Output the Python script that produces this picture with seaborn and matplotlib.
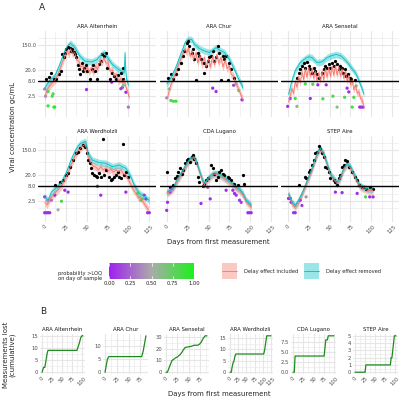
import numpy as np
import pandas as pd
import seaborn as sns
import matplotlib.pyplot as plt
from matplotlib.colors import LinearSegmentedColormap
from matplotlib.patches import Rectangle
from matplotlib.lines import Line2D
from matplotlib.ticker import NullFormatter

sites = ["ARA Altenrhein", "ARA Chur", "ARA Sensetal",
         "ARA Werdholzli", "CDA Lugano", "STEP Aire"]

# ---------- panel A: model curve, delay effect removed (cyan) ----------
alt_rm_day = [0, 6, 12, 18, 24, 28, 31, 36, 42, 48, 56, 62, 68, 71, 75, 81, 87, 95, 96, 97, 98, 100]
alt_rm_val = [4.6, 8.5, 12, 31, 92, 146, 172, 121, 61, 41, 38, 45, 70, 81, 54, 31, 22, 16, 81, 16, 9.2, 5.8]
chu_rm_day = [0, 4, 10, 16, 22, 26, 30, 33, 39, 45, 51, 55, 59, 63, 69, 75, 81, 85, 90, 91]
chu_rm_val = [6.5, 9.4, 21, 61, 182, 239, 230, 160, 112, 93, 81, 98, 120, 100, 81, 47, 21, 11, 5.8, 4.6]
sen_rm_day = [1, 5, 9, 15, 21, 25, 29, 35, 41, 47, 53, 58, 64, 70, 76, 82, 86, 89, 91]
sen_rm_val = [2.8, 8.3, 19, 36, 50, 58, 54, 36, 38, 54, 64, 70, 61, 41, 24, 14, 7.2, 4.3, 2.8]
wer_rm_day = [0, 4, 8, 14, 20, 26, 32, 38, 42, 46, 49, 52, 57, 65, 73, 81, 89, 97, 103, 107, 113, 119, 123, 125]
wer_rm_val = [3.4, 2.6, 5, 7.2, 11, 25, 73, 170, 240, 280, 295, 110, 66, 54, 51, 39, 44, 34, 17, 8.7, 4.6, 3.5, 2.8, 2.6]
lug_rm_day = [0, 4, 8, 12, 18, 24, 28, 32, 35, 39, 43, 45, 49, 55, 59, 65, 71, 77, 83, 87, 91, 95, 99, 101]
lug_rm_val = [5, 5.8, 7.4, 13, 25, 51, 75, 87, 66, 29, 13, 10, 15, 22, 23, 20, 15, 11, 7.4, 6.4, 4.5, 2.6, 2.0, 1.7]
air_rm_day = [1, 5, 9, 13, 17, 21, 25, 29, 33, 37, 39, 43, 47, 51, 55, 59, 63, 67, 71, 75, 79, 83, 86, 90, 96, 102]
air_rm_val = [4.5, 2.2, 1.7, 2.6, 4.5, 8.7, 17, 34, 75, 150, 170, 115, 51, 22, 15, 11, 17, 34, 51, 39, 22, 13, 8.7, 7.4, 6.4, 6.4]

# ---------- panel A: model curve, delay effect included (red) ----------
alt_in_day = [0, 3, 6, 9, 12, 15, 18, 21, 24, 27, 29, 31, 33, 36, 38, 41, 43, 46, 48, 51, 53, 56, 58, 61, 63,
              66, 68, 71, 73, 76, 78, 81, 83, 86, 88, 91, 93, 95, 97, 99, 101]
alt_in_val = [2.4, 4.0, 5.5, 7, 8.5, 12, 20, 35, 60, 95, 70, 110, 75, 80, 45, 40, 25, 28, 18, 25, 17, 24, 16, 28, 20,
              45, 35, 55, 35, 35, 18, 20, 12, 14, 8, 10, 7, 9, 5, 3.5, 2.2]
chu_in_day = [1, 4, 7, 10, 13, 16, 19, 22, 24, 26, 28, 30, 32, 35, 37, 40, 42, 45, 47, 50, 52, 55, 57, 60, 62,
              65, 67, 70, 72, 75, 77, 80, 82, 85, 88, 91]
chu_in_val = [2.2, 5, 9, 14, 25, 40, 70, 110, 80, 120, 60, 95, 45, 80, 35, 65, 30, 55, 25, 50, 25, 60, 30, 70, 35,
              55, 25, 45, 22, 28, 14, 12, 7, 5, 3, 1.8]
sen_in_day = [1, 3, 5, 7, 9, 11, 13, 15, 17, 19, 21, 23, 25, 27, 29, 31, 33, 35, 37, 39, 41, 43, 45, 47, 49,
              51, 53, 55, 57, 59, 61, 63, 65, 67, 69, 71, 73, 75, 77, 79, 81, 83, 85, 87, 89, 91]
sen_in_val = [1.5, 2.5, 4.5, 3, 8, 5, 12, 7, 18, 9, 22, 11, 25, 12, 22, 10, 18, 8, 16, 8, 18, 9, 22, 11, 25,
              12, 27, 13, 28, 13, 26, 12, 22, 10, 18, 8, 13, 6, 9, 4, 6, 3, 3.5, 2, 1.8, 1.0]
wer_in_day = [0, 3, 6, 9, 12, 15, 18, 21, 24, 27, 30, 33, 36, 39, 42, 45, 48, 50, 52, 55, 58, 61, 64, 67, 70,
              73, 76, 79, 82, 85, 88, 91, 94, 97, 100, 103, 106, 109, 112, 115, 118, 121, 124]
wer_in_val = [2.2, 1.8, 2.8, 3.5, 4.5, 5.5, 7, 9, 14, 20, 35, 55, 90, 130, 160, 200, 230, 170, 80, 55, 40, 38, 30, 38, 30,
              35, 28, 32, 25, 30, 26, 30, 22, 20, 14, 9, 6, 4.5, 3.2, 3, 2.2, 1.6, 1.2]
lug_in_day = lug_rm_day
lug_in_val = [4.5, 5.2, 6.6, 11.5, 22, 46, 68, 80, 60, 26, 11.5, 9, 13.5, 20, 21, 18, 13.5, 10, 6.6, 5.7, 4, 2.3, 1.8, 1.5]
air_in_day = air_rm_day
air_in_val = [4.0, 2.0, 1.5, 2.3, 4.0, 7.8, 15, 30, 68, 135, 155, 105, 46, 20, 13.5, 10, 15, 31, 46, 35, 20, 11.5, 7.8,
              6.6, 5.7, 5.7]

# ---------- panel A: measurements above LOQ (black) ----------
alt_obs_day = [2, 5, 8, 11, 14, 17, 20, 21, 23, 24, 26, 28, 30, 32, 33, 35, 36, 38, 40, 41, 42, 44, 46, 47, 49,
               51, 54, 56, 58, 60, 62, 65, 67, 69, 71, 73, 75, 78, 80, 83, 85, 88, 91, 93, 94]
alt_obs_val = [9.4, 11, 15, 10, 9.4, 14, 18, 70, 55, 81, 105, 130, 120, 92, 105, 85, 70, 55, 30, 21, 14, 35, 18, 24, 30,
               18, 9.4, 22, 30, 18, 9.4, 31, 42, 70, 60, 81, 24, 9.4, 15, 12, 9.4, 13, 16, 9.8, 24]
chu_obs_day = [2, 5, 8, 11, 14, 17, 20, 21, 24, 26, 27, 30, 32, 33, 35, 37, 39, 41, 44, 45, 47, 49, 51, 53, 55,
               57, 59, 61, 63, 65, 67, 69, 71, 73, 75, 77, 80]
chu_obs_val = [10.8, 14, 9.4, 14, 21, 36, 61, 93, 182, 210, 139, 81, 105, 47, 8.6, 81, 61, 47, 36, 16, 27, 41, 55, 61, 93,
               41, 58, 139, 81, 8.6, 61, 47, 61, 8.6, 36, 21, 10.8]
sen_obs_day = [11, 13, 15, 17, 19, 21, 23, 25, 27, 29, 31, 33, 35, 37, 41, 43, 45, 47, 49, 51, 53, 55, 57, 59, 61,
               63, 65, 66, 68, 70, 72, 74, 76, 80]
sen_obs_val = [10.8, 16, 21, 27, 36, 24, 39, 27, 21, 16, 24, 19, 14, 10.8, 16, 21, 27, 24, 31, 24, 36, 27, 41, 31, 21,
               27, 24, 16, 21, 12.3, 14, 10.8, 9.4, 8.8]
wer_obs_day = [12, 18, 22, 26, 28, 30, 34, 38, 40, 42, 46, 48, 50, 52, 54, 55, 57, 59, 61, 63, 65, 67, 70, 71, 73,
               77, 79, 81, 83, 85, 87, 89, 91, 93, 95, 97, 99]
wer_obs_val = [8.7, 11, 13, 20, 23, 39, 66, 115, 130, 170, 225, 195, 115, 66, 51, 34, 23, 20, 18, 17, 23, 17, 357, 20, 29,
               17, 13, 14, 17, 20, 26, 17, 15, 238, 20, 26, 17]
lug_obs_day = [0, 4, 8, 10, 12, 14, 16, 18, 20, 22, 24, 26, 28, 30, 32, 33, 35, 37, 39, 43, 45, 47, 49, 53, 55,
               57, 59, 61, 63, 65, 67, 69, 73, 75, 77, 81, 85, 91, 92]
lug_obs_val = [25, 7.4, 9, 15, 18, 25, 34, 21, 30, 51, 66, 75, 55, 87, 100, 75, 51, 17, 11, 8.5, 10, 13, 15, 44, 34,
               22, 13, 17, 25, 29, 22, 20, 17, 15, 13, 10, 9, 20, 10]
air_obs_day = [13, 21, 22, 25, 27, 29, 31, 33, 35, 37, 39, 41, 43, 45, 47, 49, 51, 55, 57, 59, 61, 63, 65, 67, 69,
               71, 73, 77, 81, 83, 85, 89, 90, 94, 98, 102]
air_obs_val = [8.7, 17, 15, 25, 30, 44, 66, 115, 130, 200, 160, 115, 87, 39, 34, 25, 15, 13, 11, 8.7, 15, 20, 39, 44, 66,
               60, 39, 25, 17, 13, 8.7, 7.4, 7.8, 6.4, 7.4, 6.4]

# ---------- panel A: measurements below LOQ, coloured by probability >LOQ ----------
alt_low_day = [0, 1, 4, 4, 9, 10, 11, 12, 50, 80, 91, 93, 94, 97, 100]
alt_low_val = [4.3, 2.4, 3.5, 1.1, 2.4, 2.9, 1.0, 1.0, 4.1, 7.4, 4.4, 4.9, 5.8, 3.3, 1.0]
alt_low_prob = [0.35, 0.4, 0.85, 0.9, 0.8, 0.8, 0.95, 0.95, 0.05, 0.1, 0.1, 0.15, 0.65, 0.05, 0.3]
chu_low_day = [0, 3, 5, 8, 11, 55, 59, 80, 83, 86, 90]
chu_low_val = [2.1, 4.3, 1.7, 1.6, 1.6, 4.6, 3.5, 5.8, 6.5, 3.8, 1.8]
chu_low_prob = [0.4, 0.6, 0.8, 0.85, 0.9, 0.05, 0.05, 0.1, 0.6, 0.75, 0.05]
sen_low_day = [0, 3, 9, 11, 21, 27, 30, 36, 42, 46, 54, 59, 68, 71, 73, 77, 79, 82, 86, 88, 90]
sen_low_val = [1.06, 2.0, 2.0, 1.06, 6.5, 2.0, 6.3, 6.0, 1.95, 6.0, 2.4, 1.0, 2.2, 4.6, 3.4, 1.0, 2.2, 5.5, 1.0, 1.0, 1.0]
sen_low_prob = [0.05, 0.1, 0.9, 0.6, 0.85, 0.05, 0.85, 0.05, 0.85, 0.05, 0.85, 0.6, 0.85, 0.05, 0.05, 0.9, 0.85, 0.6,
                0.05, 0.05, 0.05]
wer_low_day = [0, 0, 2, 4, 6, 4, 8, 12, 16, 20, 24, 28, 63, 67, 97, 111, 113, 115, 117, 119, 121, 123, 125]
wer_low_val = [3.4, 0.95, 0.95, 0.95, 0.95, 2.6, 2.6, 3.9, 1.2, 2.4, 5.8, 5.0, 8.0, 3.9, 5.0, 4.5, 3.4, 2.6, 2.9, 3.9,
               2.9, 0.95, 0.95]
wer_low_prob = [0.05, 0.05, 0.05, 0.05, 0.05, 0.4, 0.3, 0.05, 0.5, 0.85, 0.05, 0.05, 0.05, 0.05, 0.05, 0.85, 0.5, 0.8,
                0.8, 0.1, 0.05, 0.05, 0.05]
lug_low_day = [0, 1, 4, 6, 41, 45, 49, 52, 71, 79, 81, 83, 87, 89, 97, 99, 101]
lug_low_val = [1.15, 2.2, 5.0, 6.4, 2.0, 8.0, 7.4, 2.9, 5.8, 5.8, 4.5, 3.9, 2.6, 2.2, 0.95, 0.95, 0.95]
lug_low_prob = [0.05, 0.05, 0.1, 0.1, 0.05, 0.1, 0.1, 0.05, 0.05, 0.05, 0.05, 0.05, 0.1, 0.1, 0.05, 0.05, 0.05]
air_low_day = [1, 3, 4, 7, 9, 15, 17, 22, 57, 65, 83, 93, 98, 102]
air_low_val = [3.0, 3.0, 2.2, 0.95, 0.95, 2.6, 1.7, 3.4, 5.0, 4.8, 4.5, 3.4, 3.4, 3.4]
air_low_prob = [0.05, 0.05, 0.05, 0.05, 0.05, 0.1, 0.1, 0.4, 0.05, 0.05, 0.05, 0.85, 0.05, 0.05]

# ---------- panel B: cumulative measurements lost ----------
alt_lost_day = [0, 2, 4, 7, 10, 13, 15, 87, 89, 91, 93, 96, 99, 102]
alt_lost_n = [0, 1, 2, 2, 5, 8, 9, 9, 10, 11, 12, 14, 15, 15]
chu_lost_day = [0, 2, 5, 8, 78, 81, 84, 87]
chu_lost_n = [0, 2, 5, 6, 6, 8, 11, 14]
sen_lost_day = [0, 3, 5, 8, 13, 17, 20, 25, 28, 31, 35, 38, 42, 48, 55, 62, 70, 74, 78, 82, 86, 90]
sen_lost_n = [0, 0, 2, 5, 10, 11, 12, 13, 14, 15, 17, 19, 21, 21.5, 22, 23, 23, 24, 26, 29, 31, 31]
wer_lost_day = [0, 4, 6, 9, 12, 15, 18, 103, 106, 109, 112, 125]
wer_lost_n = [0, 0, 2, 4, 5, 7, 8, 8, 10, 13, 16, 16]
lug_lost_day = [0, 3, 5, 76, 78, 80, 84, 86, 100]
lug_lost_n = [0, 0, 4, 4, 6, 8, 8, 9, 9]
air_lost_day = [0, 25, 27, 88, 90, 92, 96, 98, 102]
air_lost_n = [0, 0, 1, 1, 2, 2, 4, 5, 5]

curves = {
    "ARA Altenrhein": (alt_rm_day, alt_rm_val, alt_in_day, alt_in_val, alt_obs_day, alt_obs_val,
                       alt_low_day, alt_low_val, alt_low_prob, alt_lost_day, alt_lost_n),
    "ARA Chur": (chu_rm_day, chu_rm_val, chu_in_day, chu_in_val, chu_obs_day, chu_obs_val,
                 chu_low_day, chu_low_val, chu_low_prob, chu_lost_day, chu_lost_n),
    "ARA Sensetal": (sen_rm_day, sen_rm_val, sen_in_day, sen_in_val, sen_obs_day, sen_obs_val,
                     sen_low_day, sen_low_val, sen_low_prob, sen_lost_day, sen_lost_n),
    "ARA Werdholzli": (wer_rm_day, wer_rm_val, wer_in_day, wer_in_val, wer_obs_day, wer_obs_val,
                       wer_low_day, wer_low_val, wer_low_prob, wer_lost_day, wer_lost_n),
    "CDA Lugano": (lug_rm_day, lug_rm_val, lug_in_day, lug_in_val, lug_obs_day, lug_obs_val,
                   lug_low_day, lug_low_val, lug_low_prob, lug_lost_day, lug_lost_n),
    "STEP Aire": (air_rm_day, air_rm_val, air_in_day, air_in_val, air_obs_day, air_obs_val,
                  air_low_day, air_low_val, air_low_prob, air_lost_day, air_lost_n),
}

loq = 8.0
y_ticks = [2.5, 8.0, 20.0, 150.0]
y_minor = [1.4, 4.47, 12.65, 54.8, 268]
x_ticks = [0, 25, 50, 75, 100, 125]
x_minor = [12.5, 37.5, 62.5, 87.5, 112.5]

# B panel y breaks per site
lost_yticks = {
    "ARA Altenrhein": [0, 5, 10, 15], "ARA Chur": [0, 5, 10], "ARA Sensetal": [0, 10, 20, 30],
    "ARA Werdholzli": [0, 5, 10, 15], "CDA Lugano": [0, 2.5, 5.0, 7.5], "STEP Aire": [0, 1, 2, 3, 4, 5],
}

# ---------- styling ----------
W, H = 399, 400
RED, CYAN = "#F8766D", "#00BFC4"
GRID, TXT = "#E6E6E6", "#4D4D4D"
prob_cmap = LinearSegmentedColormap.from_list("prob", ["#A020F0", "#ABABAB", "#1EF01E"])

sns.set_theme(style="white")
plt.rcParams['font.family'] = ['DejaVu Sans']


def box(x0, y0, w, h):
    # pixel box (top-left origin) -> figure fraction
    return [x0 / W, 1 - (y0 + h) / H, w / W, h / H]


def tidy(ax):
    for s in ax.spines.values():
        s.set_visible(False)
    ax.set_facecolor("white")
    ax.grid(which="major", color=GRID, lw=0.8)
    ax.grid(which="minor", color=GRID, lw=0.4)
    ax.set_axisbelow(True)
    ax.tick_params(which="both", length=0, labelsize=3.8, labelcolor=TXT, pad=1.2)
    ax.set_xlabel("")
    ax.set_ylabel("")


fig = plt.figure(figsize=(W / 100, H / 100), dpi=100)

# ---------- panel A ----------
cols_x = [38, 160, 281]
rows_y = [31, 136]
for i, site in enumerate(sites):
    r, c = divmod(i, 3)
    rm_d, rm_v, in_d, in_v, ob_d, ob_v, lo_d, lo_v, lo_p, _, _ = curves[site]
    ax = fig.add_axes(box(cols_x[c], rows_y[r], 118, 86))
    ax.set_yscale("log")

    in_arr = np.array(in_v)
    rm_arr = np.array(rm_v)
    ax.fill_between(in_d, in_arr / 1.35, in_arr * 1.35, color=RED, alpha=0.4, lw=0)
    ax.fill_between(rm_d, rm_arr / 1.3, rm_arr * 1.3, color=CYAN, alpha=0.4, lw=0)
    sns.lineplot(x=in_d, y=in_v, ax=ax, color=RED, lw=0.6, estimator=None, sort=False)
    sns.lineplot(x=rm_d, y=rm_v, ax=ax, color=CYAN, lw=0.6, estimator=None, sort=False)
    ax.axhline(loq, color="black", lw=1.0)
    sns.scatterplot(x=ob_d, y=ob_v, ax=ax, color="black", s=5.5, linewidth=0)
    sns.scatterplot(x=lo_d, y=lo_v, hue=lo_p, palette=prob_cmap, hue_norm=(0, 1),
                    ax=ax, s=5.5, linewidth=0, legend=False)

    ax.set_xlim(-8, 133)
    ax.set_ylim(0.45, 460)
    ax.set_xticks(x_ticks)
    ax.set_xticks(x_minor, minor=True)
    ax.set_yticks(y_ticks)
    ax.set_yticks(y_minor, minor=True)
    ax.yaxis.set_minor_formatter(NullFormatter())
    tidy(ax)
    if c == 0:
        ax.set_yticklabels([f"{v:.1f}" for v in y_ticks])
    else:
        ax.set_yticklabels([])
    if r == 1:
        ax.set_xticklabels([str(v) for v in x_ticks], rotation=45, ha="center", va="top")
    else:
        ax.set_xticklabels([])
    ax.set_title(site, fontsize=3.9, color="#1A1A1A", pad=2.5)

fig.text(42 / W, 1 - 7 / H, "A", fontsize=6.5, ha="center", va="center")
fig.text(13 / W, 1 - 127 / H, "Viral concentration gc/mL", fontsize=5, rotation=90,
         ha="center", va="center")
fig.text(218 / W, 1 - 242 / H, "Days from first measurement", fontsize=5, ha="center", va="center")

# ---------- legends ----------
cax = fig.add_axes(box(109, 263, 85, 16))
cax.imshow(np.linspace(0, 1, 256)[None, :], aspect="auto", cmap=prob_cmap, extent=[0, 1, 0, 1])
for t in [0, 0.25, 0.5, 0.75, 1.0]:
    cax.plot([t, t], [0, 0.2], color="white", lw=0.5)
    cax.plot([t, t], [0.8, 1], color="white", lw=0.5)
cax.set_xlim(0, 1)
cax.set_ylim(0, 1)
cax.set_yticks([])
cax.set_xticks([0, 0.25, 0.5, 0.75, 1.0])
cax.set_xticklabels(["0.00", "0.25", "0.50", "0.75", "1.00"])
cax.tick_params(length=0, labelsize=3.7, labelcolor="#1A1A1A", pad=1.5)
for s in cax.spines.values():
    s.set_visible(False)
fig.text(58 / W, 1 - 276 / H, "probability >LOQ\non day of sample", fontsize=3.7,
         ha="left", va="center", linespacing=0.95)

for kx, col, lab in [(222, RED, "Delay effect included"), (304, CYAN, "Delay effect removed")]:
    fig.add_artist(Rectangle((kx / W, 1 - 279 / H), 15 / W, 16 / H, transform=fig.transFigure,
                             facecolor=col, alpha=0.4, lw=0))
    fig.add_artist(Line2D([kx / W, (kx + 15) / W], [1 - 271 / H, 1 - 271 / H],
                          transform=fig.transFigure, color=col, lw=0.6))
    fig.text((kx + 22) / W, 1 - 271 / H, lab, fontsize=3.7, ha="left", va="center")

# ---------- panel B ----------
b_left = [40, 103, 164, 228, 291, 353]
for i, site in enumerate(sites):
    lost_d, lost_n = curves[site][9], curves[site][10]
    ax = fig.add_axes(box(b_left[i], 334, 45, 40))
    sns.lineplot(x=lost_d, y=lost_n, ax=ax, color="#1E8B1E", lw=0.9, estimator=None, sort=False)
    xmax = max(lost_d)
    ymax = max(lost_n)
    ax.set_xlim(-0.05 * xmax, 1.05 * xmax)
    ax.set_ylim(-0.05 * ymax, 1.05 * ymax)
    xt = [v for v in x_ticks if v <= xmax + 1]
    ax.set_xticks(xt)
    ax.set_xticks([v + 12.5 for v in xt if v + 12.5 <= xmax], minor=True)
    yt = lost_yticks[site]
    ax.set_yticks(yt)
    step = yt[1] - yt[0]
    ax.set_yticks([v + step / 2 for v in yt if v + step / 2 <= ymax], minor=True)
    tidy(ax)
    ax.set_xticklabels([str(v) for v in xt], rotation=45, ha="center", va="top")
    if site == "CDA Lugano":
        ax.set_yticklabels([f"{v:.1f}" for v in yt])
    else:
        ax.set_yticklabels([str(int(v)) for v in yt])
    ax.set_title(site, fontsize=3.9, color="#1A1A1A", pad=2.5)

fig.text(43 / W, 1 - 311 / H, "B", fontsize=6.5, ha="center", va="center")
fig.text(9 / W, 1 - 355 / H, "Measurements lost\n(cumulative)", fontsize=5, rotation=90,
         ha="center", va="center", linespacing=1.0)
fig.text(219 / W, 1 - 394 / H, "Days from first measurement", fontsize=5, ha="center", va="center")

fig.savefig("out.png", dpi=100)
